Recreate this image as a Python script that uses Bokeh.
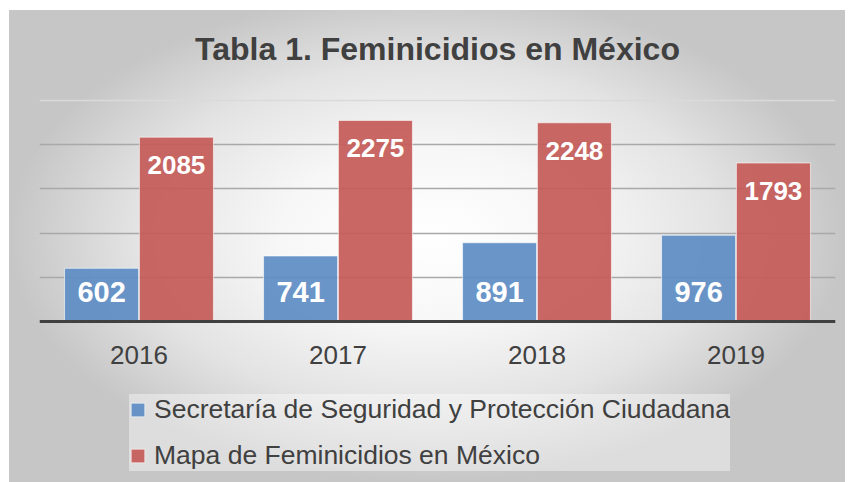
from bokeh.plotting import figure
from bokeh.models import ColumnDataSource, FactorRange, Range1d, FixedTicker, Span, Label
from bokeh.transform import dodge
from bokeh.core.properties import value
from bokeh.embed import file_html
from bokeh.resources import INLINE

# ---- data ----
years = ["2016", "2017", "2018", "2019"]
sspc = [602, 741, 891, 976]
mapa = [2085, 2275, 2248, 1793]
series_names = ["Secretaría de Seguridad y Protección Ciudadana",
                "Mapa de Feminicidios en México"]
title_text = "Tabla 1. Feminicidios en México"
grid_ticks = [500, 1000, 1500, 2000]
y_max = 2500

# ---- layout constants (pixels) ----
W, H = 845, 482
TOP_PX = 100      # pixel row of y_max
AXIS_PX = 321     # pixel row of y = 0
TITLE_POS_PX = 48
upp = y_max / (AXIS_PX - TOP_PX)   # data units per pixel

FONT = "Liberation Sans"
TXT = "#404040"
BLUE = "#5e8dc4"
RED = "#c45b58"

src = ColumnDataSource(dict(
    year=years, sspc=sspc, mapa=mapa,
    sspc_lbl=[str(v) for v in sspc],
    mapa_lbl=[str(v) for v in mapa],
))

p = figure(width=W, height=H, title=None,
           x_range=FactorRange(*years, range_padding=0),
           y_range=Range1d(-(H - AXIS_PX) * upp, y_max + TOP_PX * upp),
           output_backend="svg", toolbar_location=None,
           y_axis_location=None,
           min_border_left=39, min_border_right=10,
           min_border_top=0, min_border_bottom=0,
           border_fill_color=None, background_fill_color=None,
           outline_line_color=None)

p.styles = {"background": "radial-gradient(ellipse farthest-side at 50% 48%, #ffffff 0%, #f7f7f7 35%, #e3e3e3 70%, #c6c6c6 100%) 9px 10px / 836px 472px no-repeat, #ffffff"}

# title
p.add_layout(Label(x=len(years) / 2, y=y_max + (TOP_PX - TITLE_POS_PX) * upp,
                   text=title_text, text_align="center", text_baseline="alphabetic",
                   text_font=FONT, text_font_size="32px", text_font_style="bold",
                   text_color=TXT))

# grid
p.xgrid.grid_line_color = None
p.ygrid.ticker = FixedTicker(ticks=grid_ticks)
p.ygrid.grid_line_color = "#a9a9a9"
p.ygrid.grid_line_width = 1.5
p.add_layout(Span(location=y_max, dimension="width", line_color="#dadada", line_width=1.5))

# x axis fixed at y = 0
ax = p.xaxis[0]
ax.fixed_location = 0
ax.axis_line_color = TXT
ax.axis_line_width = 3
ax.major_tick_line_color = None
ax.minor_tick_line_color = None
ax.major_label_text_font = FONT
ax.major_label_text_font_size = "26px"
ax.major_label_text_color = TXT
ax.major_label_standoff = 18

# bars
p.vbar(x=dodge("year", -0.188, range=p.x_range), top="sspc", width=0.372, source=src,
       fill_color=BLUE, fill_alpha=0.93, line_color="white", line_alpha=0.6, line_width=1,
       legend_label=series_names[0])
p.vbar(x=dodge("year", 0.188, range=p.x_range), top="mapa", width=0.372, source=src,
       fill_color=RED, fill_alpha=0.93, line_color="white", line_alpha=0.6, line_width=1,
       legend_label=series_names[1])

# value labels
p.text(x=dodge("year", -0.188, range=p.x_range), y=0, text="sspc_lbl", source=src,
       text_align="center", text_baseline="alphabetic", y_offset=-30,
       text_font=value(FONT), text_font_style="bold", text_font_size="29px",
       text_color="white")
p.text(x=dodge("year", 0.188, range=p.x_range), y="mapa", text="mapa_lbl", source=src,
       text_align="center", text_baseline="alphabetic", y_offset=28,
       text_font=value(FONT), text_font_style="bold", text_font_size="26px",
       text_color="white")

# legend
lg = p.legend[0]
lg.location = (90, 11)
lg.orientation = "vertical"
lg.background_fill_color = "white"
lg.background_fill_alpha = 0.4
lg.border_line_color = None
lg.padding = 9
lg.margin = 0
lg.spacing = 15
lg.glyph_width = 17
lg.glyph_height = 17
lg.label_standoff = 8
lg.label_text_font = FONT
lg.label_text_font_size = "26.5px"
lg.label_text_color = TXT

open("out.html", "w").write(file_html(p, INLINE))
